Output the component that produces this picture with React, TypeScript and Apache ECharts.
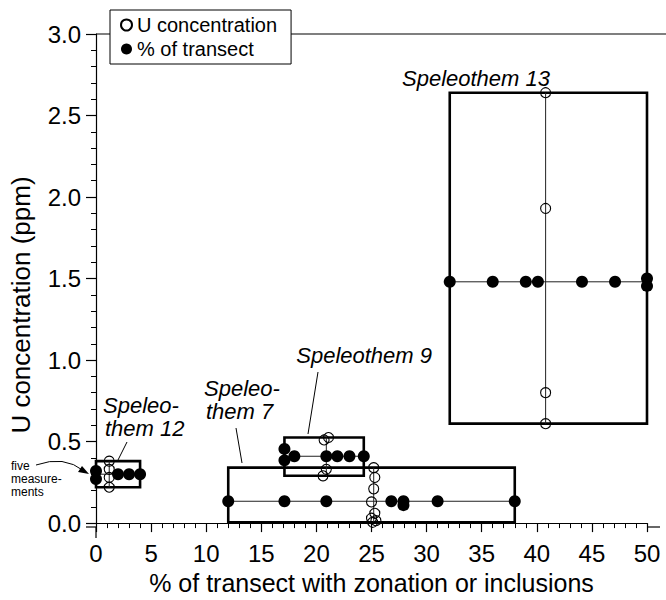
import React, { useEffect, useRef } from "react";
import * as echarts from "echarts";

// ---- data ----
// filled dots: % of transect with zonation or inclusions (x) at row level (y)
const spel12Dots = [[0, 0.32], [0, 0.27], [2.0, 0.3], [3.0, 0.3], [4.0, 0.3]];
const spel7Dots = [[12, 0.134], [17.1, 0.134], [20.9, 0.134], [26.8, 0.134], [27.9, 0.134], [27.9, 0.11], [31, 0.134], [38, 0.134]];
const spel9Dots = [[17.1, 0.455], [17.1, 0.385], [18, 0.41], [20.9, 0.41], [21.9, 0.41], [23, 0.41], [24.3, 0.41]];
const spel13Dots = [[32.1, 1.48], [36, 1.48], [39, 1.48], [40.1, 1.48], [44.1, 1.48], [47.1, 1.48], [50, 1.5], [50, 1.455]];

// open circles: U concentration (ppm)
const spel12Circles = [[1.2, 0.38], [1.2, 0.33], [1.2, 0.28], [1.2, 0.22]];
const spel7Circles = [[25.2, 0.34], [25.3, 0.28], [25.2, 0.21], [25.0, 0.13], [25.3, 0.06], [25.0, 0.03], [25.4, 0.015], [25.1, 0.005]];
const spel9Circles = [[20.7, 0.51], [21.1, 0.525], [20.9, 0.33], [20.6, 0.29]];
const spel13Circles = [[40.8, 2.64], [40.8, 1.93], [40.8, 0.8], [40.8, 0.61]];

const yTickLabels = ["0.0", "0.5", "1.0", "1.5", "2.0", "2.5", "3.0"];

const groups = [
  { dots: spel12Dots, circles: spel12Circles },
  { dots: spel7Dots, circles: spel7Circles },
  { dots: spel9Dots, circles: spel9Circles },
  { dots: spel13Dots, circles: spel13Circles },
];

const median = (a: number[]) => {
  const s = [...a].sort((p, q) => p - q);
  return s[Math.floor(s.length / 2)];
};

const FONT = '"Liberation Sans", Arial, Helvetica, sans-serif';

export default function App() {
  const ref = useRef<HTMLDivElement>(null);
  useEffect(() => {
    if (!ref.current) return;
    const chart = echarts.init(ref.current, null, { renderer: "svg" });

    const boxes = groups.map((g) => {
      const xs = g.dots.map((d) => d[0]);
      const ys = g.circles.map((d) => d[1]);
      return [Math.min(...xs), Math.max(...xs), Math.min(...ys), Math.max(...ys)];
    });
    const hLines = groups.map((g) => {
      const xs = g.dots.map((d) => d[0]);
      const y = median(g.dots.map((d) => d[1]));
      return [[Math.min(...xs), y], [Math.max(...xs), y]];
    });
    const vLines = groups.map((g) => {
      const ys = g.circles.map((d) => d[1]);
      const x = median(g.circles.map((d) => d[0]));
      return [[x, Math.min(...ys)], [x, Math.max(...ys)]];
    });

    const lineSeries = [...hLines, ...vLines].map((l) => ({
      type: "line",
      data: l,
      symbol: "none",
      silent: true,
      z: 2,
      lineStyle: { color: "#222", width: 1 },
    }));

    const annoFont = { fontSize: 22, fontStyle: "italic", fontFamily: FONT, fill: "#000" };
    const smallFont = { fontSize: 12, fontFamily: FONT, fill: "#000", verticalAlign: "middle", align: "left" };

    chart.setOption({
      animation: false,
      backgroundColor: "#fff",
      grid: { left: 96, right: 19, top: 34, bottom: 73, containLabel: false },
      legend: {
        orient: "vertical",
        left: 110,
        top: 10,
        z: 10,
        data: ["U concentration", "% of transect"],
        icon: "circle",
        itemWidth: 11,
        itemHeight: 11,
        itemGap: 4,
        padding: [5, 14, 5, 10],
        backgroundColor: "#fff",
        borderColor: "#000",
        borderWidth: 1,
        borderRadius: 0,
        textStyle: { fontSize: 20, color: "#000", fontFamily: FONT },
      },
      xAxis: {
        type: "value",
        min: 0,
        max: 50,
        interval: 5,
        name: "% of transect with zonation or inclusions",
        nameLocation: "middle",
        nameGap: 45,
        nameTextStyle: { fontSize: 25, color: "#000", fontFamily: FONT },
        axisLine: { show: true, lineStyle: { color: "#000", width: 1.2 } },
        axisTick: { show: true, inside: false, length: 9, lineStyle: { color: "#000", width: 1.2 } },
        minorTick: { show: true, splitNumber: 5, length: 5, lineStyle: { color: "#000", width: 1 } },
        splitLine: { show: false },
        axisLabel: { fontSize: 24, color: "#000", fontFamily: FONT, margin: 18 },
      },
      yAxis: {
        type: "value",
        min: 0,
        max: 3,
        interval: 0.5,
        axisLine: { show: true, lineStyle: { color: "#000", width: 1.2 } },
        axisTick: { show: true, inside: false, length: 10, lineStyle: { color: "#000", width: 1.2 } },
        minorTick: { show: true, splitNumber: 5, length: 5, lineStyle: { color: "#000", width: 1 } },
        splitLine: { show: false },
        axisLabel: {
          fontSize: 24,
          color: "#000",
          fontFamily: FONT,
          margin: 15,
          formatter: (v: number) => yTickLabels[Math.round(v / 0.5)] ?? v.toFixed(1),
        },
      },
      graphic: [
        {
          type: "text",
          x: 21,
          y: 305,
          rotation: Math.PI / 2,
          style: { text: "U concentration (ppm)", fontSize: 26, fontFamily: FONT, fill: "#000", align: "center", verticalAlign: "middle" },
        },
        { type: "line", z: 1, shape: { x1: 96, y1: 34, x2: 666, y2: 34 }, style: { stroke: "#000", lineWidth: 1.2 } },
        { type: "line", z: 1, shape: { x1: 86, y1: 527, x2: 96, y2: 527 }, style: { stroke: "#000", lineWidth: 1.2 } },
        { type: "line", z: 1, shape: { x1: 647, y1: 527, x2: 660, y2: 527 }, style: { stroke: "#000", lineWidth: 1.2 } },
        { type: "line", z: 1, shape: { x1: 96, y1: 527, x2: 96, y2: 538 }, style: { stroke: "#000", lineWidth: 1.2 } },
        { type: "text", x: 402, y: 78, style: { ...annoFont, text: "Speleothem 13", verticalAlign: "middle", align: "left" } },
        { type: "text", x: 432, y: 355, style: { ...annoFont, text: "Speleothem 9", verticalAlign: "middle", align: "right" } },
        { type: "text", x: 204, y: 388, style: { ...annoFont, text: "Speleo-", verticalAlign: "middle", align: "left" } },
        { type: "text", x: 206, y: 411, style: { ...annoFont, text: "them 7", verticalAlign: "middle", align: "left" } },
        { type: "text", x: 103, y: 405, style: { ...annoFont, text: "Speleo-", verticalAlign: "middle", align: "left" } },
        { type: "text", x: 105, y: 428, style: { ...annoFont, text: "them 12", verticalAlign: "middle", align: "left" } },
        { type: "line", shape: { x1: 127, y1: 442, x2: 118, y2: 460 }, style: { stroke: "#000", lineWidth: 1 } },
        { type: "line", shape: { x1: 236, y1: 428, x2: 242, y2: 463 }, style: { stroke: "#000", lineWidth: 1 } },
        { type: "line", shape: { x1: 318, y1: 372, x2: 308, y2: 434 }, style: { stroke: "#000", lineWidth: 1 } },
        { type: "text", x: 11, y: 466, style: { ...smallFont, text: "five" } },
        { type: "text", x: 11, y: 479, style: { ...smallFont, text: "measure-" } },
        { type: "text", x: 11, y: 492, style: { ...smallFont, text: "ments" } },
        { type: "bezierCurve", shape: { x1: 36, y1: 465, cpx1: 64, cpy1: 455, x2: 84, y2: 471 }, style: { stroke: "#000", lineWidth: 1, fill: "none" } },
        { type: "polygon", shape: { points: [[89, 474], [78, 472], [82, 466]] }, style: { fill: "#000" } },
      ],
      series: [
        {
          type: "custom",
          silent: true,
          z: 1,
          clip: false,
          data: boxes,
          encode: { x: [0, 1], y: [2, 3] },
          renderItem: (_p: any, api: any) => {
            const a = api.coord([api.value(0), api.value(3)]);
            const b = api.coord([api.value(1), api.value(2)]);
            return {
              type: "rect",
              shape: { x: a[0], y: a[1], width: b[0] - a[0], height: b[1] - a[1] },
              style: { fill: "none", stroke: "#000", lineWidth: 2.6 },
            };
          },
        },
        ...lineSeries,
        {
          name: "U concentration",
          type: "scatter",
          z: 4,
          symbol: "circle",
          symbolSize: 10,
          data: groups.flatMap((g) => g.circles),
          itemStyle: { color: "rgba(255,255,255,0)", borderColor: "#000", borderWidth: 1.1, opacity: 1 },
        },
        {
          name: "% of transect",
          type: "scatter",
          z: 5,
          symbol: "circle",
          symbolSize: 12,
          data: groups.flatMap((g) => g.dots),
          itemStyle: { color: "#000", opacity: 1 },
        },
      ],
    });
    return () => chart.dispose();
  }, []);
  return <div ref={ref} style={{ position: "fixed", left: 0, top: 0, width: 666, height: 600, background: "#fff" }} />;
}
